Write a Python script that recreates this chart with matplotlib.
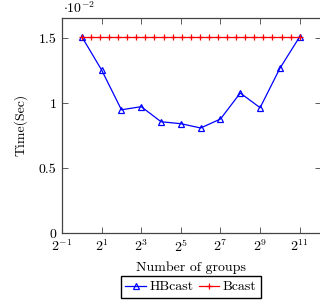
import matplotlib
matplotlib.use("Agg")
import matplotlib.pyplot as plt
import numpy as np

plt.rcParams['font.family'] = 'serif'
plt.rcParams['font.serif'] = ['cmr10']
plt.rcParams['mathtext.fontset'] = 'cm'
plt.rcParams['axes.unicode_minus'] = False
plt.rcParams['axes.formatter.use_mathtext'] = True

# group counts as powers of two
hb_exp = [0, 1, 2, 3, 4, 5, 6, 7, 8, 9, 10, 11]
hb_time = [0.0151, 0.01254, 0.00948, 0.00972, 0.00856, 0.00841,
           0.00808, 0.00877, 0.01077, 0.00964, 0.01267, 0.0151]

bcast_exp = np.linspace(0, 11, 25)
bcast_time = [0.0151] * len(bcast_exp)

xtick_exp = [-1, 1, 3, 5, 7, 9, 11]
ytick_vals = [0, 0.005, 0.01, 0.015]
ytick_labels = ['0', '0.5', '1', '1.5']


def main():
    fig = plt.figure(figsize=(3.2, 3.04), dpi=100, facecolor='w')
    ax = fig.add_axes([62 / 320, 71 / 304, 258.5 / 320, 215.5 / 304])

    ax.plot([2.0 ** e for e in hb_exp], hb_time, color='blue', lw=0.9,
            marker='^', ms=4.5, mfc='none', mew=0.9, label='HBcast')
    ax.plot([2.0 ** e for e in bcast_exp], bcast_time, color='red', lw=0.9,
            marker='+', ms=5, mew=0.9, label='Bcast')

    ax.set_xscale('log', base=2)
    ax.set_xlim(2.0 ** -1, 2.0 ** 12.05)
    ax.set_ylim(0, 0.01658)
    ax.set_xticks([2.0 ** e for e in xtick_exp])
    ax.set_xticklabels(['$2^{%d}$' % e for e in xtick_exp])
    ax.minorticks_off()
    ax.set_yticks(ytick_vals)
    ax.set_yticklabels(ytick_labels)
    ax.tick_params(direction='in', length=4.2, width=0.6, top=True,
                   right=True, labelsize=10, colors='#444444',
                   labelcolor='black', pad=4)
    for s in ax.spines.values():
        s.set_linewidth(0.9)
        s.set_color('#444444')

    ax.set_xlabel('Number of groups', fontsize=10, labelpad=5)
    ax.set_ylabel('Time(Sec)', fontsize=10, labelpad=8)
    fig.text(63 / 320, 288 / 304, r'$\cdot 10^{-2}$', fontsize=10,
             ha='left', va='bottom')

    fig.legend(loc='center', bbox_to_anchor=(191 / 320, 17 / 304), ncol=2,
               fontsize=10, handlelength=1.5, handletextpad=0.25,
               columnspacing=0.35, borderpad=0.3, numpoints=1,
               fancybox=False, edgecolor='black', framealpha=1)

    fig.savefig('out.png', dpi=100)


if __name__ == "__main__":
    main()
